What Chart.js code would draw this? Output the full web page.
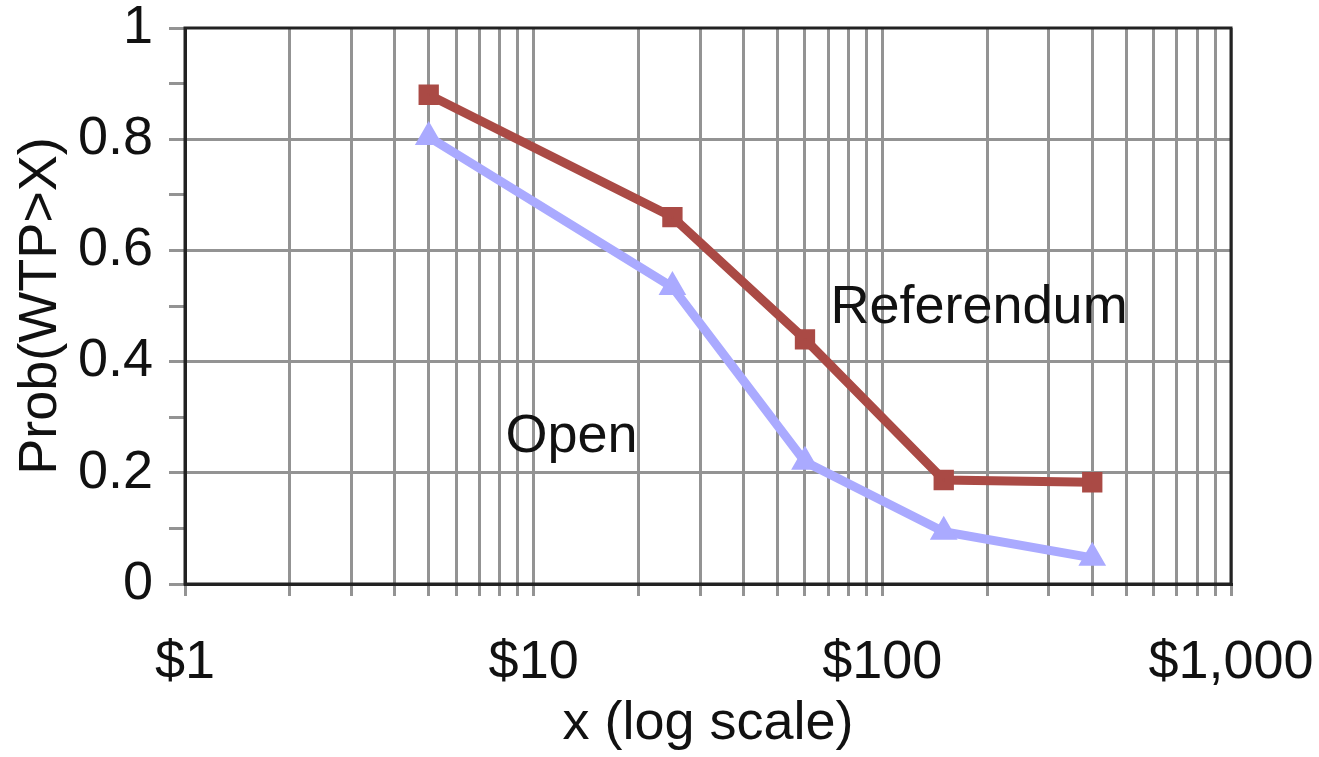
<!DOCTYPE html>
<html>
<head>
<meta charset="utf-8">
<script src="https://cdn.jsdelivr.net/npm/chart.js@4"></script>
<style>
  html, body { margin: 0; padding: 0; background: #fff; }
  #wrap { width: 1319px; height: 757px; }
</style>
</head>
<body>
<div id="wrap"><canvas id="myChart" width="1319" height="757"></canvas></div>
<script>
// setup
const prices = [5, 25, 60, 150, 400];
const referendum = [0.88, 0.66, 0.44, 0.187, 0.183];
const open = [0.804, 0.534, 0.22, 0.094, 0.047];
const xTicks = [1, 2, 3, 4, 5, 6, 7, 8, 9, 10, 20, 30, 40, 50, 60, 70, 80, 90,
  100, 200, 300, 400, 500, 600, 700, 800, 900, 1000];
const xLabelled = [1, 10, 100, 1000];
const seriesNames = ['Referendum', 'Open'];

const FONT = '"Liberation Sans", Arial, sans-serif';
const GRID = '#939393';

const data = {
  datasets: [{
    label: seriesNames[0],
    data: prices.map((x, i) => ({ x: x, y: referendum[i] })),
    borderColor: '#aa4a45',
    backgroundColor: '#aa4a45',
    borderWidth: 9,
    pointStyle: 'rect',
    pointRadius: 8,
    tension: 0
  }, {
    label: seriesNames[1],
    data: prices.map((x, i) => ({ x: x, y: open[i] })),
    borderColor: '#aaaaff',
    backgroundColor: '#aaaaff',
    borderWidth: 9,
    pointStyle: 'triangle',
    pointRadius: 7,
    tension: 0
  }]
};

// border round the plot + the in-chart series names
const extras = {
  id: 'extras',
  afterDatasetsDraw(chart) {
    const { ctx, chartArea: a, scales } = chart;
    ctx.save();
    ctx.font = '54px ' + FONT;
    ctx.fillStyle = '#111';
    ctx.textAlign = 'left';
    ctx.textBaseline = 'middle';
    ctx.fillText(seriesNames[0], scales.x.getPixelForValue(71), scales.y.getPixelForValue(0.497));
    ctx.fillText(seriesNames[1], scales.x.getPixelForValue(8.3), scales.y.getPixelForValue(0.265));
    ctx.strokeStyle = '#222';
    ctx.lineWidth = 3;
    ctx.strokeRect(a.left, a.top, a.right - a.left, a.bottom - a.top);
    ctx.restore();
  }
};

// config
const config = {
  type: 'line',
  data,
  options: {
    responsive: false,
    animation: false,
    layout: { padding: { top: 28, right: 88, left: 0, bottom: 0 } },
    plugins: { legend: { display: false }, tooltip: { enabled: false } },
    scales: {
      x: {
        type: 'logarithmic',
        min: 1,
        max: 1000,
        afterBuildTicks: s => { s.ticks = xTicks.map(v => ({ value: v })); },
        afterFit: s => { s.height = 173; s.paddingLeft = 0; s.paddingRight = 0; },
        grid: { color: GRID, lineWidth: 3, tickLength: 12, tickColor: GRID },
        border: { display: true, color: '#222', width: 3 },
        ticks: {
          autoSkip: false,
          maxRotation: 0,
          padding: 40,
          color: '#111',
          font: { family: FONT, size: 54, lineHeight: 1 },
          callback: v => xLabelled.includes(v) ? '$' + v.toLocaleString('en-US') : ''
        },
        title: {
          display: true,
          text: 'x (log scale)',
          color: '#111',
          font: { family: FONT, size: 54, lineHeight: 1 },
          padding: { top: 0, bottom: 6 }
        }
      },
      y: {
        min: 0,
        max: 1,
        afterFit: s => { s.width = 185; s.paddingTop = 0; s.paddingBottom = 0; },
        grid: {
          lineWidth: 3,
          tickLength: 16,
          tickColor: GRID,
          color: c => {
            const k = Math.round(c.tick.value * 10);
            return (k % 2 === 0 && k > 0 && k < 10) ? GRID : 'rgba(0,0,0,0)';
          }
        },
        border: { display: true, color: '#222', width: 3 },
        ticks: {
          stepSize: 0.1,
          autoSkip: false,
          padding: 16,
          color: '#111',
          font: { family: FONT, size: 54, lineHeight: 1 },
          callback: v => {
            const k = Math.round(v * 10);
            return k % 2 === 0 ? String(k / 10) : '';
          }
        },
        title: {
          display: true,
          text: 'Prob(WTP>X)',
          color: '#111',
          font: { family: FONT, size: 54, lineHeight: 1 },
          padding: { top: 14, bottom: 0 }
        }
      }
    }
  },
  plugins: [extras]
};

// render init block
const myChart = new Chart(document.getElementById('myChart'), config);
</script>
</body>
</html>
